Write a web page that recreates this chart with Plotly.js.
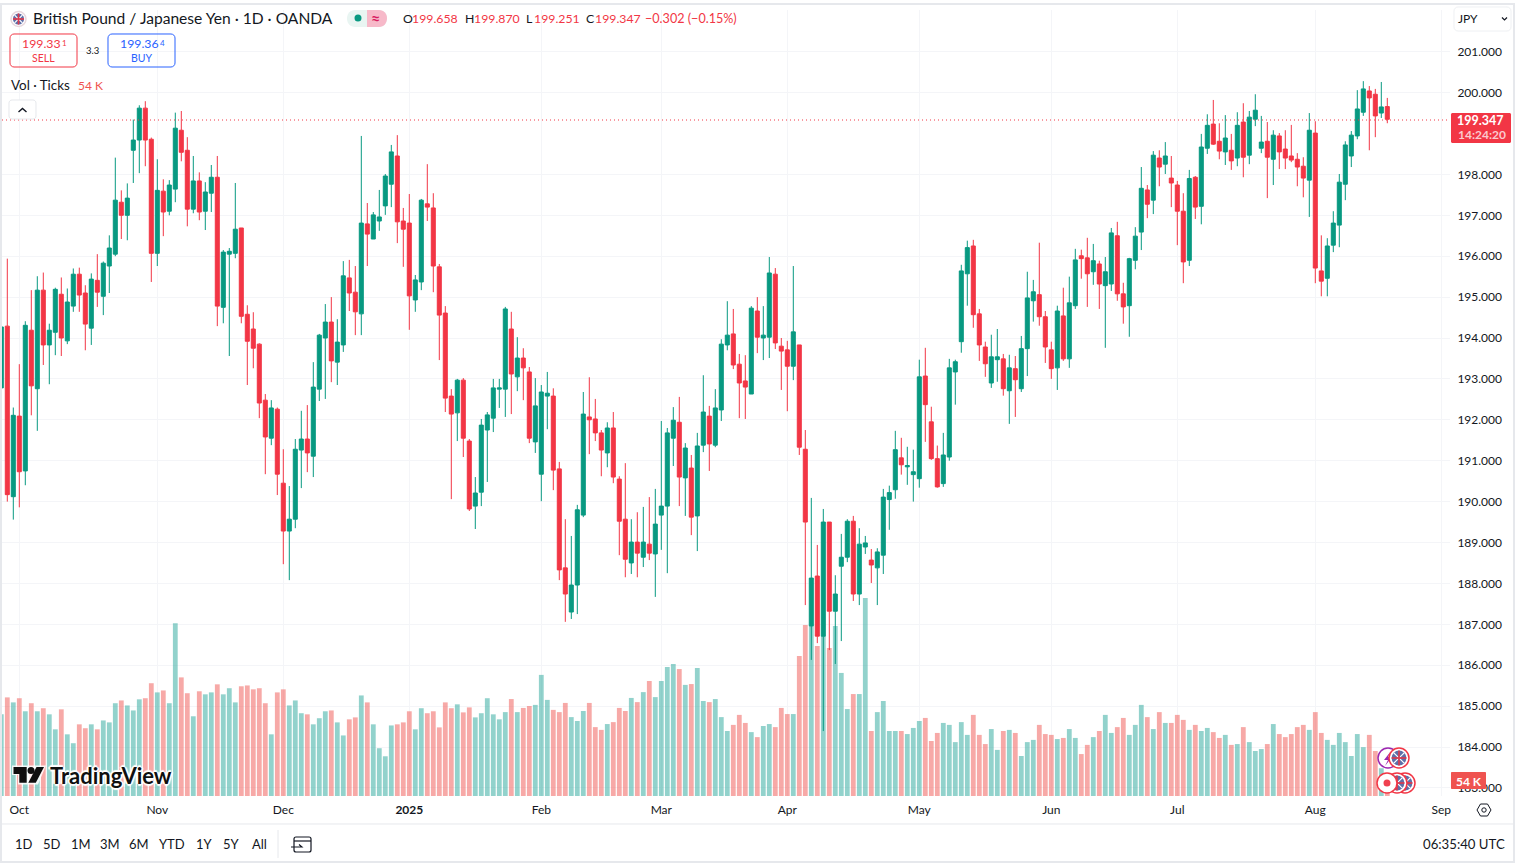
<!DOCTYPE html>
<html><head><meta charset="utf-8">
<script src="https://cdn.plot.ly/plotly-3.0.1.min.js"></script>
<style>html,body{margin:0;padding:0;background:#fff;overflow:hidden}#c{width:1515px;height:865px}</style>
</head><body><div id="c"></div>
<script>
const opens=[192.78,194.29,190.12,192.09,190.75,194.19,192.76,195.17,193.83,194.14,
195.07,193.93,194.78,195.56,195.10,194.24,195.41,195.02,195.76,196.05,
197.32,197.00,198.59,198.84,199.62,198.86,196.07,197.59,197.10,197.64,
199.08,198.59,197.15,197.84,197.10,197.54,197.93,194.75,196.05,196.07,
196.69,194.58,194.22,193.85,192.48,191.55,192.26,190.45,189.28,189.57,
191.26,191.53,191.11,192.75,194.00,194.39,193.41,193.83,195.47,195.12,
194.59,196.79,196.42,196.86,197.23,197.76,198.45,196.86,196.81,194.93,
195.37,197.28,197.18,195.74,194.61,192.58,192.17,192.97,191.48,189.89,
190.23,191.75,192.04,192.75,192.75,194.22,193.05,193.51,193.17,191.46,
190.67,192.58,192.58,190.80,188.38,187.30,187.96,189.67,192.07,192.02,
191.68,191.19,191.80,190.55,189.57,188.50,189.01,188.64,188.96,188.72,
189.67,189.89,191.55,191.94,190.58,190.82,189.65,191.38,192.09,191.38,
192.24,193.83,194.10,193.36,192.95,192.63,194.66,194.00,194.02,195.56,
193.80,193.71,193.31,193.83,191.28,186.96,188.18,186.71,189.50,187.32,
188.42,188.64,189.52,187.74,188.89,188.57,188.38,188.69,190.05,190.29,
191.07,190.85,190.66,190.56,193.07,191.95,191.05,190.44,191.09,193.17,
193.91,195.57,196.25,194.59,193.78,192.90,193.47,193.49,192.71,193.25,
192.76,193.74,194.91,195.06,194.52,193.71,193.27,194.54,193.49,194.79,
196.01,195.96,195.62,195.81,195.28,195.32,196.50,195.08,194.79,195.90,
196.59,197.62,197.37,198.40,198.25,197.91,197.74,197.10,195.90,197.93,
197.22,198.64,199.23,198.81,198.55,198.59,198.40,199.28,198.47,199.35,
198.64,198.81,198.37,198.94,198.62,198.45,198.37,198.20,197.86,199.01,
195.64,195.46,196.27,196.76,197.76,198.45,198.94,199.52,200.04,199.96,
199.50,199.658];
const closes=[194.27,190.17,192.11,190.73,194.31,192.83,195.17,193.83,194.19,195.19,
194.00,194.88,195.56,195.05,194.34,195.44,195.12,195.83,196.20,197.37,
197.00,197.42,198.84,199.62,198.84,196.07,197.61,197.08,197.74,199.13,
198.54,197.15,197.84,197.08,197.57,197.93,194.78,196.10,196.12,196.66,
194.53,193.92,193.75,192.41,191.58,192.29,190.67,189.28,189.57,191.28,
191.53,191.19,192.80,194.07,194.39,193.44,193.90,195.52,195.10,194.64,
196.81,196.54,197.01,196.96,197.96,198.55,196.84,196.66,195.03,195.42,
197.37,197.20,195.76,194.56,192.53,192.14,192.97,191.55,189.82,190.21,
191.87,192.12,192.78,192.78,194.71,193.12,193.51,193.27,191.55,192.34,
192.68,192.65,190.77,188.33,187.74,187.96,189.80,192.14,192.00,191.68,
191.26,191.80,190.60,189.52,188.59,189.01,188.74,189.01,188.74,189.45,
189.89,191.68,191.99,190.60,191.31,189.62,191.36,192.19,191.41,192.29,
193.85,194.07,193.34,192.90,192.80,194.73,194.02,194.07,195.59,193.88,
193.68,193.31,194.15,191.33,189.50,188.13,186.71,189.50,187.32,187.74,
188.64,189.52,187.74,188.96,188.99,188.45,188.77,190.11,190.22,191.27,
190.90,190.88,190.73,193.05,192.37,191.05,190.36,191.14,193.27,193.42,
195.64,196.21,194.57,193.83,193.37,193.54,193.54,192.76,193.27,192.98,
193.74,194.98,195.13,194.52,193.78,193.25,194.66,193.49,194.86,195.91,
195.94,195.57,195.89,195.32,195.62,196.57,195.08,194.76,195.94,196.49,
197.66,197.27,198.47,198.18,198.45,197.79,197.10,195.86,197.90,197.20,
198.67,199.20,198.74,198.57,198.89,198.33,199.20,198.42,199.40,199.57,
198.79,198.42,198.96,198.55,198.40,198.35,198.18,197.91,199.08,195.71,
195.39,196.25,196.81,197.81,198.72,198.96,199.60,200.09,199.87,199.43,
199.65,199.347];
const highs=[194.35,195.94,192.30,193.36,194.41,195.17,195.51,195.60,194.35,195.23,
195.48,195.21,195.70,195.72,195.29,195.58,196.05,195.87,196.51,198.41,
197.61,197.78,199.34,199.69,199.79,198.90,198.37,197.88,197.86,199.51,
199.55,198.91,198.45,198.05,197.81,198.23,198.45,196.15,196.20,197.79,
196.69,194.80,194.63,193.87,192.63,192.48,192.30,191.28,190.38,191.53,
192.22,192.36,193.41,194.10,194.83,195.00,194.46,195.88,195.91,195.76,
198.94,197.30,197.08,197.62,198.01,198.72,198.96,197.18,197.52,195.54,
197.40,198.25,197.54,195.81,194.78,192.75,193.00,193.02,191.53,190.60,
192.02,192.19,193.00,193.00,194.76,194.64,194.02,193.75,193.29,193.02,
192.85,193.17,192.77,190.97,189.57,189.16,189.92,192.68,193.04,192.51,
191.75,191.94,192.19,190.62,190.94,189.57,189.74,189.87,190.11,190.31,
191.97,191.80,192.31,192.56,191.43,191.14,191.68,193.09,192.34,192.75,
193.97,194.90,194.71,193.61,193.58,194.78,195.00,194.78,195.98,195.71,
194.00,193.93,195.76,193.83,191.75,190.09,188.94,189.82,189.50,188.20,
189.21,189.57,189.65,189.35,189.16,188.84,188.86,190.31,190.39,191.73,
191.56,191.34,191.27,193.47,193.76,192.32,191.37,191.68,193.49,193.47,
195.79,196.38,196.40,194.71,193.91,194.08,194.22,193.61,193.59,193.56,
194.05,195.62,195.42,196.33,194.66,193.91,194.79,195.23,195.50,196.18,
196.16,196.45,196.30,195.89,195.98,196.69,196.84,195.35,195.96,196.71,
198.18,197.74,198.57,198.59,198.79,198.45,197.84,197.54,198.11,197.96,
198.99,199.47,199.82,199.25,199.45,198.99,199.52,199.74,199.55,199.96,
199.43,199.28,199.08,199.01,199.08,199.21,198.52,198.42,199.50,199.30,
196.51,196.44,197.10,198.01,198.81,199.06,200.06,200.28,200.16,200.09,
200.26,199.870];
const lows=[192.64,190.00,189.56,189.86,190.40,192.11,191.73,193.34,192.87,193.58,
193.56,193.85,194.64,194.64,193.70,193.83,194.76,194.56,195.10,196.00,
196.42,196.39,197.79,198.03,198.20,195.37,195.76,196.49,197.00,197.32,
198.32,196.73,197.05,196.88,196.64,197.08,194.29,194.36,193.56,195.95,
194.36,192.85,193.26,192.04,190.67,191.38,190.16,188.47,188.08,189.35,
190.33,190.72,190.60,192.46,192.51,192.92,192.85,193.66,194.66,194.07,
194.07,195.76,196.42,196.62,197.01,197.20,196.32,195.74,194.20,194.64,
195.17,196.86,195.12,193.46,192.19,190.06,191.48,191.09,189.77,189.33,
189.89,190.48,191.70,192.29,192.07,192.14,192.70,192.48,191.43,191.19,
190.01,191.77,190.28,188.08,187.06,187.13,187.25,189.62,191.16,191.48,
190.62,190.84,190.45,188.69,188.15,188.23,188.15,188.40,188.57,187.67,
188.82,188.25,190.87,189.89,189.65,189.18,188.79,191.21,190.75,191.33,
191.97,193.70,193.24,192.04,192.02,192.63,193.63,193.46,193.51,193.73,
192.73,192.21,192.97,191.14,187.47,186.13,186.54,184.39,186.37,186.03,
186.59,188.52,187.57,187.47,188.72,188.01,187.47,188.23,189.31,190.07,
190.66,190.41,190.00,190.34,191.46,191.02,190.34,190.36,191.00,192.37,
193.64,194.79,194.25,193.44,193.05,192.78,192.93,192.59,191.90,192.07,
192.68,193.07,194.40,194.30,193.39,193.00,192.73,193.44,193.27,194.71,
195.45,194.76,195.30,194.71,193.76,195.15,194.91,194.35,194.03,195.68,
196.15,196.93,197.03,197.71,198.01,197.20,196.27,195.34,195.76,196.91,
196.78,198.50,198.72,198.37,198.23,198.11,198.20,197.93,198.25,199.18,
198.52,197.42,197.74,198.13,198.13,198.30,197.71,197.44,196.96,195.34,
195.02,195.02,196.10,196.22,197.37,198.18,198.86,199.43,198.59,198.91,
199.38,199.251];
const volumesK=[294,355,337,352,305,334,305,316,294,240,312,222,190,258,244,258,240,272,265,334,
344,326,308,348,352,406,373,380,334,622,427,370,287,377,366,373,402,366,388,337,
395,398,384,388,334,222,373,384,326,344,298,294,258,280,305,308,265,218,276,283,
362,337,258,172,143,254,258,265,305,240,316,298,305,247,337,316,330,301,319,283,
298,352,294,276,302,349,302,317,324,328,436,346,310,302,335,284,270,306,335,248,
238,259,266,317,306,353,338,374,414,356,414,464,475,457,400,403,461,342,338,349,
284,234,256,292,263,230,212,252,259,248,317,295,295,504,616,612,540,576,533,612,
443,313,367,367,713,234,302,342,234,234,234,223,245,270,281,198,227,263,256,194,
266,220,292,220,187,241,166,234,238,227,144,194,202,256,223,220,205,209,241,209,
151,184,212,234,292,227,248,281,220,256,328,284,241,302,263,263,292,274,238,256,
234,245,230,209,220,184,187,248,194,162,169,187,259,223,212,223,248,256,238,302,
227,202,184,227,194,144,223,176,220,162,100,54];
const monthTickIdx=[3,26,47,68,90,110,131,153,175,196,219,240];
const monthTickText=['Oct','Nov','Dec','<b>2025</b>','Feb','Mar','Apr','May','Jun','Jul','Aug','Sep'];
const priceTicks=[183,184,185,186,187,188,189,190,191,192,193,194,195,196,197,198,200,201];
const priceTickText=priceTicks.map(v=>v.toFixed(3));
const rangeButtons=['1D','5D','1M','3M','6M','YTD','1Y','5Y','All'];
const lastPrice=199.33;

const W=1515,H=865,L=2,R=1450,T=10,B=796;
const UP='#089981',DN='#f23645',TXT='#131722',GRID='#f4f5f8',EDGE='#e6e8ec';
const FONT='Lato, "Noto Sans", sans-serif';
const idx=opens.map((_,i)=>i);
const px=x=>(x-L)/(R-L), py=y=>(B-y)/(B-T);
const volColors=opens.map((o,i)=>closes[i]>=o?'rgba(38,166,154,0.5)':'rgba(239,83,80,0.5)');

const ann=[],sh=[];
function t(x,y,text,o={}){ann.push({xref:'paper',yref:'paper',x:px(x),y:py(y),text,showarrow:false,
  xanchor:o.a||'left',yanchor:'middle',font:{family:FONT,size:o.s||13,color:o.c||TXT,weight:o.w||'normal',shadow:o.sh||'none'},borderpad:0,borderwidth:0});}
function P(str,o={}){sh.push({type:'path',xref:'paper',yref:'paper',path:str,line:{color:o.lc||'rgba(0,0,0,0)',width:o.lw===undefined?1:o.lw},fillcolor:o.f||'rgba(0,0,0,0)',layer:'above'});}
const X=x=>px(x).toFixed(5), Y=y=>py(y).toFixed(5);
function rrect(x0,y0,x1,y1,r){const k=r*0.45;return `M${X(x0+r)},${Y(y0)}L${X(x1-r)},${Y(y0)}C${X(x1-k)},${Y(y0)} ${X(x1)},${Y(y0+k)} ${X(x1)},${Y(y0+r)}L${X(x1)},${Y(y1-r)}C${X(x1)},${Y(y1-k)} ${X(x1-k)},${Y(y1)} ${X(x1-r)},${Y(y1)}L${X(x0+r)},${Y(y1)}C${X(x0+k)},${Y(y1)} ${X(x0)},${Y(y1-k)} ${X(x0)},${Y(y1-r)}L${X(x0)},${Y(y0+r)}C${X(x0)},${Y(y0+k)} ${X(x0+k)},${Y(y0)} ${X(x0+r)},${Y(y0)}Z`;}
function poly(pts,close=true){return 'M'+pts.map(p=>X(p[0])+','+Y(p[1])).join('L')+(close?'Z':'');}
function circ(cx,cy,r,o){sh.push({type:'circle',xref:'paper',yref:'paper',x0:px(cx-r),x1:px(cx+r),y0:py(cy+r),y1:py(cy-r),line:{color:o.lc||'rgba(0,0,0,0)',width:o.lw===undefined?1:o.lw},fillcolor:o.f||'rgba(0,0,0,0)',layer:'above'});}
function flag(cx,cy,r,border){
  circ(cx,cy,r,{f:'#ffffff',lc:border,lw:1.5});
  const q=r*0.74;
  circ(cx,cy,q,{f:'#5e6fa8'});
  P(poly([[cx-q*0.7,cy-q*0.7],[cx+q*0.7,cy+q*0.7]],false),{lc:'#fff',lw:1.2});
  P(poly([[cx+q*0.7,cy-q*0.7],[cx-q*0.7,cy+q*0.7]],false),{lc:'#fff',lw:1.2});
  P(poly([[cx-q,cy],[cx+q,cy]],false),{lc:'#e0374a',lw:1.6});
  P(poly([[cx,cy-q],[cx,cy+q]],false),{lc:'#e0374a',lw:1.6});
}

// frame
sh.push({type:'rect',xref:'paper',yref:'paper',x0:px(1),x1:px(1514),y0:py(862),y1:py(4),line:{color:EDGE,width:2},layer:'above'});
P(poly([[2,824],[1513,824]],false),{lc:EDGE,lw:1});
P(poly([[278,830],[278,858]],false),{lc:EDGE,lw:1});

// header
flag(18.5,19,7.5,'#e8d7dd');
t(33,18.5,'British Pound / Japanese Yen · 1D · OANDA',{s:15.6});
P(rrect(347,10,387,27,8),{f:'#e9f5f2'});
P(`M${X(367)},${Y(10)}L${X(379)},${Y(10)}C${X(384)},${Y(10)} ${X(387)},${Y(14)} ${X(387)},${Y(18)}C${X(387)},${Y(23)} ${X(384)},${Y(27)} ${X(379)},${Y(27)}L${X(367)},${Y(27)}Z`,{f:'#f7b9c9'});
circ(358,18,3.5,{f:'#089981'});
t(376,18,'≈',{s:16,c:'#d81b60',a:'center',w:'bold'});
const RED='#f23645';
t(403,18.5,'O',{s:12.3}); t(412,18.5,'199.658',{s:12.3,c:RED});
t(465,18.5,'H',{s:12.3}); t(474,18.5,'199.870',{s:12.3,c:RED});
t(526,18.5,'L',{s:12.3}); t(534,18.5,'199.251',{s:12.3,c:RED});
t(586,18.5,'C',{s:12.3}); t(595,18.5,'199.347',{s:12.3,c:RED});
t(645,18.5,'−0.302 (−0.15%)',{s:12.6,c:RED});

P(rrect(10,34,77,67,4),{lc:DN,lw:1});
P(rrect(108,34,175,67,4),{lc:'#2962ff',lw:1});
t(22,43.5,'199.33',{s:12.3,c:DN}); t(62,42.5,'1',{s:8,c:DN});
t(43.5,58,'SELL',{s:10.5,c:DN,a:'center'});
t(92,50,'3.3',{s:9.5,a:'center'});
t(119.5,43.5,'199.36',{s:12.3,c:'#2962ff'}); t(159.5,42.5,'4',{s:8,c:'#2962ff'});
t(141.5,58,'BUY',{s:10.5,c:'#2962ff',a:'center'});
t(11,85,'Vol · Ticks',{s:13.4});
t(78,85,'54 K',{s:12,c:'#ef5350'});
P(rrect(9,100,36,119,3),{f:'#fff',lc:EDGE,lw:1});
P(poly([[18.5,112],[22.5,108.5],[26.5,112]],false),{lc:TXT,lw:1.4});

// currency box
P(rrect(1454,7,1511,31,4),{f:'#fff',lc:'#eef0f3',lw:1});
t(1458,18.5,'JPY',{s:12});
P(poly([[1502,17.5],[1504.5,20],[1507,17.5]],false),{lc:TXT,lw:1.2});

// last price
P(rrect(1451,113,1511,143,1.5),{f:DN});
t(1480,120.5,'199.347',{s:12.5,c:'#fff',a:'center',w:'bold'});
t(1482,135,'14:24:20',{s:12,c:'#fbc9ce',a:'center',w:'bold'});

// volume tag
P(rrect(1451,772,1486,789,1),{f:'#ef5350'});
t(1469,781,'54 K',{s:12,c:'#fff',a:'center',w:'bold'});

// TradingView logo
const HALO='2px 0 1px #fff,-2px 0 1px #fff,0 2px 1px #fff,0 -2px 1px #fff,1px 1px 1px #fff,-1px -1px 1px #fff';
P(poly([[12,765.5],[46,765.5],[38,784.5],[18,784.5],[18,775],[12,775]]),{f:'rgba(255,255,255,0.85)'});
P(poly([[13.5,767],[26.7,767],[26.7,782.7],[19.3,782.7],[19.3,774],[13.5,774]]),{f:'#0f0f0f'});
circ(31,770.6,3.5,{f:'#0f0f0f'});
P(poly([[44,767],[36.5,767],[28.3,782.7],[35.8,782.7]]),{f:'#0f0f0f'});
t(50,775.5,'TradingView',{s:22,c:'#0f0f0f',sh:HALO,w:'bold'});

// event icons
circ(1388,758,10,{f:'#fff',lc:'#9c27b0',lw:1.5});
P(poly([[1391,751],[1384,760],[1388,760],[1385,766],[1392,757],[1388,757]]),{f:'#9c27b0'});
flag(1399,758,10,DN);
flag(1405,783,10,DN);
flag(1397,783,10,DN);
circ(1387,783,10,{f:'#fff',lc:DN,lw:1.5});
circ(1387,783,3.5,{f:'#f0414f'});

// axis settings icon
P(poly([[1477,810],[1480.5,804],[1487.5,804],[1491,810],[1487.5,816],[1480.5,816]]),{lc:TXT,lw:1});
circ(1484,810,2.2,{lc:TXT,lw:1});

// bottom bar
const btnX=[24,52,81,110,139,172,204,231,259];
rangeButtons.forEach((b,i)=>t(btnX[i],844,b,{s:13,a:'center'}));
P(rrect(294,837,311,852,2),{lc:TXT,lw:1.2});
P(poly([[294,841],[311,841]],false),{lc:TXT,lw:1.2});
P(poly([[291,847],[302,847],[299,844.5]],false),{lc:TXT,lw:1.1});
t(1505,844,'06:35:40 UTC',{s:13.2,a:'right'});

const traces=[
 {type:'bar',x:idx,y:volumesK,marker:{color:volColors,line:{width:0}},xaxis:'x',yaxis:'y',hoverinfo:'skip',showlegend:false},
 {type:'candlestick',x:idx,open:opens,high:highs,low:lows,close:closes,xaxis:'x',yaxis:'y2',whiskerwidth:0,hoverinfo:'skip',showlegend:false,
  increasing:{line:{color:UP,width:1},fillcolor:UP},decreasing:{line:{color:DN,width:1},fillcolor:DN}}
];
const layout={
 width:W,height:H,paper_bgcolor:'#fff',plot_bgcolor:'#fff',showlegend:false,dragmode:false,
 margin:{l:L,r:W-R,t:T,b:H-B,pad:0},bargap:0.2,boxgap:0.33,boxgroupgap:0,font:{family:FONT,color:TXT},
 xaxis:{type:'linear',range:[(L-1.3)/6,(R-1.3)/6],rangeslider:{visible:false},tickmode:'array',tickvals:monthTickIdx,ticktext:monthTickText,
  tickfont:{family:FONT,size:12,color:TXT},showgrid:true,gridcolor:GRID,gridwidth:1,zeroline:false,showline:false,ticks:'outside',ticklen:3,tickcolor:'rgba(0,0,0,0)',fixedrange:true},
 yaxis:{domain:[0,1],range:[0,(B-T)*3.6],visible:false,fixedrange:true},
 yaxis2:{domain:[0,1],overlaying:'y',side:'right',anchor:'x',range:[200-(B-92.6)/40.9,200+(92.6-T)/40.9],tickmode:'array',tickvals:priceTicks,ticktext:priceTickText,
  tickfont:{family:FONT,size:12,color:TXT},showgrid:true,gridcolor:GRID,gridwidth:1,zeroline:false,showline:false,ticks:'outside',ticklen:4,tickcolor:'rgba(0,0,0,0)',fixedrange:true},
 shapes:[{type:'line',xref:'paper',yref:'y2',x0:0,x1:1,y0:lastPrice,y1:lastPrice,line:{color:DN,width:1,dash:'1px 3px'},layer:'above'}].concat(sh),
 annotations:ann
};
Plotly.newPlot('c',traces,layout,{displayModeBar:false,staticPlot:true});
</script></body></html>
